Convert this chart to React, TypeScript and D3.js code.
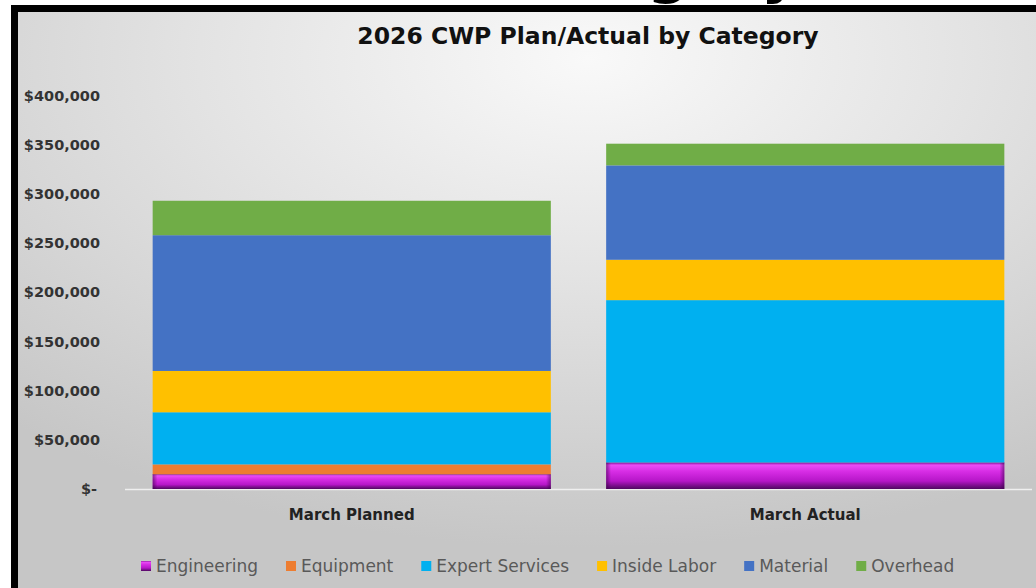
import React, { useEffect, useRef } from 'react';
import * as d3 from 'd3';

const categories = ['March Planned', 'March Actual'];
const seriesNames = ['Engineering', 'Equipment', 'Expert Services', 'Inside Labor', 'Material', 'Overhead'];
const engineering = [15000, 27000];
const equipment = [10000, 0];
const expertServices = [53000, 165000];
const insideLabor = [42000, 41000];
const material = [138000, 96000];
const overhead = [35000, 22000];
const yTicks = [0, 50000, 100000, 150000, 200000, 250000, 300000, 350000, 400000];

const seriesValues = [engineering, equipment, expertServices, insideLabor, material, overhead];
const colors = ['url(#engGrad)', '#ED7D31', '#00B0F0', '#FFC000', '#4472C4', '#70AD47'];

const W = 1036;
const H = 588;

const App: React.FC = () => {
  const svgRef = useRef<SVGSVGElement>(null);

  useEffect(() => {
    if (!svgRef.current) return;
    const svg = d3.select(svgRef.current);
    svg.selectAll('*').remove();

    const defs = svg.append('defs');
    const bg = defs.append('radialGradient').attr('id', 'bgGrad')
      .attr('cx', 0.56).attr('cy', 0.08).attr('r', 0.85);
    bg.append('stop').attr('offset', 0).attr('stop-color', '#f9f9f9');
    bg.append('stop').attr('offset', 0.45).attr('stop-color', '#e3e3e3');
    bg.append('stop').attr('offset', 1).attr('stop-color', '#c6c6c6');

    const eng = defs.append('linearGradient').attr('id', 'engGrad')
      .attr('x1', 0).attr('y1', 0).attr('x2', 0).attr('y2', 1);
    [[0, '#7d1590'], [0.1, '#ea4cf6'], [0.35, '#d62ce4'], [0.7, '#b616c8'], [1, '#4f0860']].forEach(([o, c]) =>
      eng.append('stop').attr('offset', o as number).attr('stop-color', c as string));
    const side = defs.append('linearGradient').attr('id', 'engSide')
      .attr('x1', 0).attr('y1', 0).attr('x2', 1).attr('y2', 0);
    [[0, 0.55], [0.012, 0], [0.988, 0], [1, 0.55]].forEach(([o, a]) =>
      side.append('stop').attr('offset', o).attr('stop-color', '#3a0048').attr('stop-opacity', a));

    // frame and background
    svg.append('rect').attr('width', W).attr('height', H).attr('fill', '#ffffff');
    svg.append('rect').attr('x', 11).attr('y', 5).attr('width', W - 11).attr('height', H - 5).attr('fill', '#000');
    svg.append('rect').attr('x', 18).attr('y', 12).attr('width', W - 18).attr('height', H - 12).attr('fill', 'url(#bgGrad)');

    // cut-off slide heading above the frame
    svg.append('text').attr('x', 800).attr('y', -9).attr('text-anchor', 'end')
      .style('font-family', 'DejaVu Sans').style('font-weight', 'bold').style('font-size', '60px')
      .attr('fill', '#000').text('Category');

    svg.append('text').attr('x', 588).attr('y', 44).attr('text-anchor', 'middle')
      .style('font-family', 'DejaVu Sans').style('font-weight', 'bold').style('font-size', '23.5px')
      .attr('fill', '#111').text('2026 CWP Plan/Actual by Category');

    const x = d3.scaleBand<string>().domain(categories).range([125, 1032])
      .paddingInner(0.122).paddingOuter(0.061);
    const y = d3.scaleLinear().domain([0, 400000]).range([489, 95.5]);

    // y tick labels
    svg.append('g').selectAll('text').data(yTicks).enter().append('text')
      .attr('x', d => (d === 0 ? 97 : 100)).attr('y', d => y(d)).attr('dy', '0.36em')
      .attr('text-anchor', 'end')
      .style('font-family', 'DejaVu Sans').style('font-weight', 'bold').style('font-size', '14.5px')
      .attr('fill', '#333').text(d => (d === 0 ? '$-' : d3.format('$,')(d)));

    // axis line
    svg.append('line').attr('x1', 125).attr('x2', 1032).attr('y1', y(0) + 0.5).attr('y2', y(0) + 0.5)
      .attr('stroke', '#efefef').attr('stroke-width', 1.5);

    // stacked bars
    const rows = categories.map((c, i) => {
      const r: any = { category: c };
      seriesNames.forEach((s, j) => { r[s] = seriesValues[j][i]; });
      return r;
    });
    const stacked = d3.stack<any>().keys(seriesNames)(rows);
    const bars = svg.append('g');
    stacked.forEach((layer, j) => {
      bars.append('g').selectAll('rect').data(layer).enter().append('rect')
        .attr('x', d => x(d.data.category) as number)
        .attr('width', x.bandwidth())
        .attr('y', d => y(d[1]))
        .attr('height', d => Math.max(0, y(d[0]) - y(d[1])))
        .attr('fill', colors[j]);
      if (j === 0) {
        bars.append('g').selectAll('rect').data(layer).enter().append('rect')
          .attr('x', d => x(d.data.category) as number)
          .attr('width', x.bandwidth())
          .attr('y', d => y(d[1]))
          .attr('height', d => Math.max(0, y(d[0]) - y(d[1])))
          .attr('fill', 'url(#engSide)');
      }
    });

    // category labels
    svg.append('g').selectAll('text').data(categories).enter().append('text')
      .attr('x', d => (x(d) as number) + x.bandwidth() / 2).attr('y', 520)
      .attr('text-anchor', 'middle')
      .style('font-family', 'DejaVu Sans').style('font-weight', 'bold').style('font-size', '15px')
      .attr('fill', '#222').text(d => d);

    // legend
    const legend = svg.append('g');
    let lx = 141;
    seriesNames.forEach((s, j) => {
      legend.append('rect').attr('x', lx).attr('y', 561).attr('width', 10).attr('height', 10)
        .attr('fill', colors[j]);
      const t = legend.append('text').attr('x', lx + 15).attr('y', 566).attr('dy', '0.36em')
        .style('font-family', 'DejaVu Sans').style('font-size', '17px')
        .attr('fill', '#595959').text(s);
      const w = (t.node() as SVGTextElement).getComputedTextLength();
      lx += 15 + w + 28;
    });
  }, []);

  return (
    <div style={{ position: 'fixed', left: 0, top: 0 }}>
      <svg ref={svgRef} width={W} height={H} style={{ display: 'block' }} />
    </div>
  );
};

export default App;
